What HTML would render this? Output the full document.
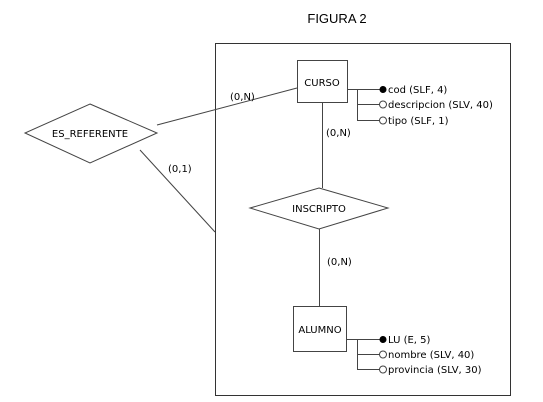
<!DOCTYPE html>
<html><head><style>body{margin:0;background:#fff}svg{display:block}text{font-family:"DejaVu Sans","Liberation Sans",sans-serif;font-size:10px;fill:#000}</style></head><body>
<svg width="543" height="402" viewBox="0 0 543 402" xmlns="http://www.w3.org/2000/svg">
<text x="337" y="23" text-anchor="middle" style="font-family:'Liberation Sans',sans-serif;font-size:13px">FIGURA 2</text>
<rect x="215.5" y="43.5" width="295" height="352" fill="none" stroke="#333" stroke-width="1"/>
<g stroke="#444" fill="none" stroke-width="1">
<rect x="297.5" y="60.5" width="50" height="42" fill="#fff"/>
<rect x="293.5" y="306.5" width="53" height="45" fill="#fff"/>
<polygon points="319,188 388,208 319,229 250,208" fill="#fff"/>
<polygon points="90,104 157,133 90,163 25,133" fill="#fff"/>
<line x1="157" y1="125" x2="297" y2="88"/>
<line x1="140" y1="150" x2="215" y2="232"/>
<line x1="322.5" y1="102" x2="322.5" y2="188"/>
<line x1="319.5" y1="229" x2="319.5" y2="306"/>
<path d="M347 89.5H380M357.5 89.5V120M357 104.5H380M357 120.5H380"/>
<path d="M346 339.5H380M357.5 339.5V370M357 354.5H380M357 369.5H380"/>
<circle cx="383" cy="104.5" r="3.5"/><circle cx="383" cy="120.5" r="3.5"/>
<circle cx="383" cy="354.5" r="3.5"/><circle cx="383" cy="369.5" r="3.5"/>
</g>
<circle cx="383" cy="89.5" r="3.5" fill="#000"/><circle cx="383" cy="339.5" r="3.5" fill="#000"/>
<text x="322" y="86" text-anchor="middle">CURSO</text>
<text x="320" y="333" text-anchor="middle">ALUMNO</text>
<text x="319" y="212" text-anchor="middle">INSCRIPTO</text>
<text x="90" y="137" text-anchor="middle">ES_REFERENTE</text>
<text x="388" y="93">cod (SLF, 4)</text>
<text x="388" y="108">descripcion (SLV, 40)</text>
<text x="388" y="124">tipo (SLF, 1)</text>
<text x="388" y="343">LU (E, 5)</text>
<text x="388" y="358">nombre (SLV, 40)</text>
<text x="388" y="373">provincia (SLV, 30)</text>
<text x="230" y="100">(0,N)</text>
<text x="326" y="136">(0,N)</text>
<text x="168" y="172">(0,1)</text>
<text x="327" y="265">(0,N)</text>
</svg>
</body></html>
